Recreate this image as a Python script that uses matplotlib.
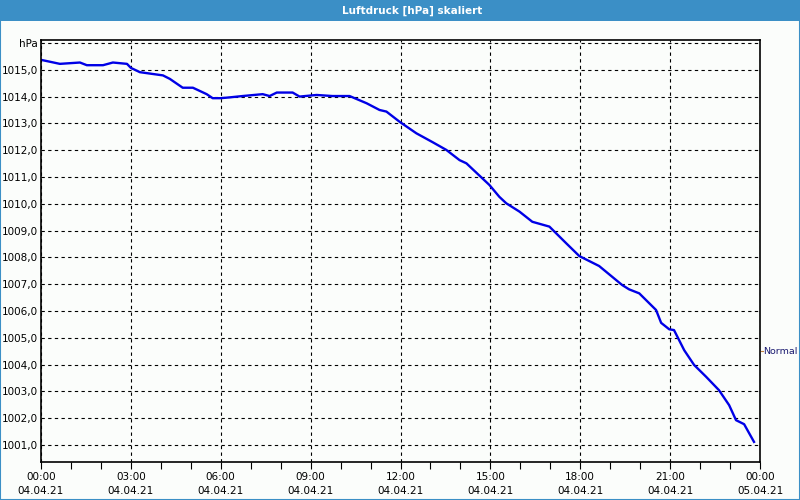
import matplotlib
matplotlib.use("Agg")
import matplotlib.pyplot as plt
from matplotlib.patches import Rectangle
import numpy as np

# Luftdruck (hPa) over one day
hours = [0.0, 0.63, 1.3, 1.53, 2.07, 2.4, 2.87, 3.0, 3.3, 4.07, 4.3, 4.73, 5.07,
         5.53, 5.73, 6.0, 6.3, 6.73, 7.4, 7.63, 7.87, 8.4, 8.63, 9.2, 9.73, 10.3,
         10.87, 11.3, 11.53, 11.97, 12.53, 13.07, 13.53, 13.97, 14.2, 14.97, 15.3,
         15.53, 15.97, 16.4, 16.97, 17.53, 17.97, 18.63, 19.4, 19.63, 19.97, 20.53,
         20.7, 20.97, 21.13, 21.47, 21.8, 22.2, 22.63, 22.97, 23.2, 23.47, 23.8]
pressure = [1015.37, 1015.22, 1015.27, 1015.17, 1015.17, 1015.27, 1015.22, 1015.07,
            1014.91, 1014.79, 1014.66, 1014.33, 1014.33, 1014.09, 1013.94, 1013.94,
            1013.97, 1014.02, 1014.09, 1014.02, 1014.15, 1014.15, 1014.0, 1014.06,
            1014.02, 1014.02, 1013.75, 1013.5, 1013.44, 1013.06, 1012.63, 1012.30,
            1012.01, 1011.63, 1011.51, 1010.70, 1010.26, 1010.02, 1009.71, 1009.33,
            1009.15, 1008.53, 1008.05, 1007.68, 1006.97, 1006.81, 1006.66, 1006.04,
            1005.56, 1005.32, 1005.29, 1004.54, 1003.99, 1003.55, 1003.05, 1002.49,
            1001.93, 1001.78, 1001.12]

x_ticks = [0, 3, 6, 9, 12, 15, 18, 21, 24]
x_labels = ["00:00\n04.04.21", "03:00\n04.04.21", "06:00\n04.04.21", "09:00\n04.04.21",
            "12:00\n04.04.21", "15:00\n04.04.21", "18:00\n04.04.21", "21:00\n04.04.21",
            "00:00\n05.04.21"]
y_ticks = list(range(1001, 1017))
y_labels = [f"{v},0" for v in y_ticks[:-1]] + ["hPa"]

title = "Luftdruck [hPa] skaliert"
bar_color = "#3b8fc6"

plt.rcParams['font.family'] = ['DejaVu Sans']
fig = plt.figure(figsize=(8, 5), dpi=100, facecolor="#fbfdfb")

# title bar and frame
fig.patches.append(Rectangle((0, 0.958), 1, 0.042, transform=fig.transFigure,
                             facecolor=bar_color, edgecolor="none"))
fig.patches.append(Rectangle((0.0006, 0.001), 0.9988, 0.998, transform=fig.transFigure,
                             facecolor="none", edgecolor=bar_color, linewidth=1.5))
fig.text(0.515, 0.979, title, color="white", fontsize=7.5, fontweight="bold",
         ha="center", va="center")

ax = fig.add_axes([0.05125, 0.076, 0.89875, 0.844])
ax.set_facecolor("#fbfdfb")
ax.plot(hours, pressure, color="#0000e6", linewidth=1.7)

ax.set_xlim(0, 24)
ax.set_ylim(1000.37, 1016.11)
ax.set_xticks(x_ticks)
ax.set_xticklabels(x_labels, fontsize=7.5, linespacing=1.55)
ax.set_xticks(np.arange(0, 25, 1), minor=True)
ax.set_yticks(y_ticks)
ax.set_yticklabels(y_labels, fontsize=7.5)

ax.tick_params(axis="x", which="both", length=5, width=0.8, direction="out", pad=2)
ax.tick_params(axis="y", length=0, pad=2)
ax.grid(True, which="major", color="black", linestyle=(0, (3, 3)), linewidth=0.8)
for s in ax.spines.values():
    s.set_linewidth(1.2)
    s.set_color("black")

# series label on the right
ax.annotate("Normal", xy=(1.0, 0.263), xycoords="axes fraction",
            xytext=(2.5, 0), textcoords="offset points", va="center", ha="left",
            fontsize=6.8, color="#1a1a70")
ax.plot([1.001, 1.004], [0.263, 0.263], transform=ax.transAxes, color="#c08040",
        linewidth=0.8, clip_on=False)

fig.savefig("out.png", dpi=100, facecolor=fig.get_facecolor())
